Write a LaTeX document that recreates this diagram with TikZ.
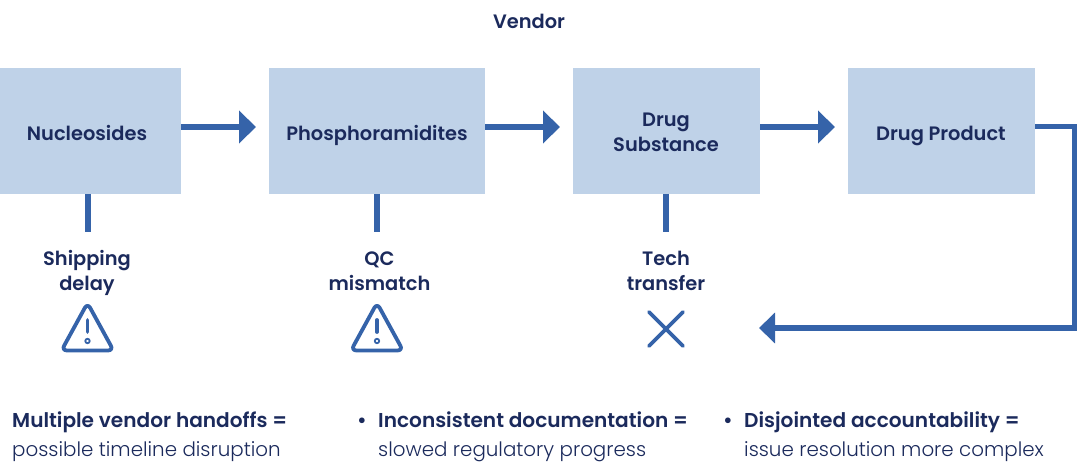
\documentclass[tikz,border=0pt]{standalone}
\usepackage{fontspec}
\usetikzlibrary{arrows.meta,calc}
\setmainfont{Poppins}[UprightFont=* Light,BoldFont=* SemiBold]
\newfontfamily\labfont{Poppins}[UprightFont=* SemiBold]
\definecolor{navy}{HTML}{1B2A5C}
\definecolor{lineblue}{HTML}{3563A9}
\definecolor{boxblue}{HTML}{BFD2E8}
\tikzset{
  boxnode/.style={fill=boxblue,minimum height=126pt,inner sep=0pt,outer sep=0pt,anchor=north west},
  lab/.style={font=\labfont\fontsize{19.4}{24.5}\selectfont,text=navy,align=center,inner sep=0pt},
  flow/.style={draw=lineblue,line width=6pt,-{Triangle[length=17pt,width=32pt]},shorten >=13pt},
  stub/.style={draw=lineblue,line width=6pt},
  elbow/.style={draw=lineblue,line width=5.5pt,line join=miter,-{Triangle[length=16pt,width=30pt]}},
  icon/.style={draw=lineblue,line width=3.8pt,line join=round,line cap=round},
  notehead/.style={font=\fontsize{20.1}{28}\selectfont,text=navy,align=left,anchor=base west,inner sep=0pt},
  notebody/.style={font=\fontsize{19.85}{28}\selectfont,text=navy,align=left,anchor=base west,inner sep=0pt},
}
\begin{document}
\begin{tikzpicture}[x=1pt,y=-1pt]
\useasboundingbox (0,0) rectangle (1088,476);
\node[lab] (title) at (529,24) {\strut Vendor};
\node[boxnode,minimum width=181pt] (n1) at (0,68) {};
\node[boxnode,minimum width=216pt] (n2) at (269,68) {};
\node[boxnode,minimum width=187pt] (n3) at (573,68) {};
\node[boxnode,minimum width=187pt] (n4) at (848,68) {};
\node[lab] (t1) at (87,136) {\strut Nucleosides};
\node[lab] (t2) at (377,136) {\strut Phosphoramidites};
\node[lab] (t3) at (666,134) {\strut Drug\\\strut Substance};
\node[lab] (t4) at (941,136) {\strut Drug Product};
\coordinate (o1) at ([yshift=4pt]n1.east);
\coordinate (o2) at ([yshift=4pt]n2.east);
\coordinate (o3) at ([yshift=4pt]n3.east);
\coordinate (o4) at ([yshift=4.5pt]n4.east);
\draw[flow] (o1) -- (o1 -| n2.west);
\draw[flow] (o2) -- (o2 -| n3.west);
\draw[flow] (o3) -- (o3 -| n4.west);
\coordinate (ret) at (759,328);
\coordinate (c1) at (1074.5,0);
\draw[elbow] (o4) -- (o4 -| c1) -- (c1 |- ret) -- (ret);
\node[lab] (l1) at (87,273) {\strut Shipping\\\strut delay};
\node[lab] (l2) at (379.5,273) {\strut QC\\\strut mismatch};
\node[lab] (l3) at (666,273) {\strut Tech\\\strut transfer};
\coordinate (s1) at (87.5,232);
\coordinate (s2) at (377,232);
\coordinate (s3) at (666,232);
\draw[stub] (n1.south -| s1) -- (s1);
\draw[stub] (n2.south -| s2) -- (s2);
\draw[stub] (n3.south -| s3) -- (s3);
\foreach \c in {87.5,377}{
  \begin{scope}[xshift=\c pt]
  \draw[icon,rounded corners=5.5pt] (0,303) -- (26,350.5) -- (-26,350.5) -- cycle;
  \draw[icon] (0,320) -- (0,332);
  \draw[lineblue,line width=1.8pt] (0,341) circle (2.2pt);
  \end{scope}
}
\draw[icon] (649,312) -- (683,346);
\draw[icon] (683,312) -- (649,346);
\node[notehead] (h1) at (12,427) {\textbf{Multiple vendor handoffs =}};
\node[notebody] (b1) at (12,456) {possible timeline disruption};
\node[notehead] (d2) at (357,427) {\textbf{•}};
\node[notehead] (h2) at (378,427) {\textbf{Inconsistent documentation =}};
\node[notebody] (b2) at (378,456) {slowed regulatory progress};
\node[notehead] (d3) at (723,427) {\textbf{•}};
\node[notehead] (h3) at (744,427) {\textbf{Disjointed accountability =}};
\node[notebody] (b3) at (744,456) {issue resolution more complex};
\end{tikzpicture}
\end{document}
